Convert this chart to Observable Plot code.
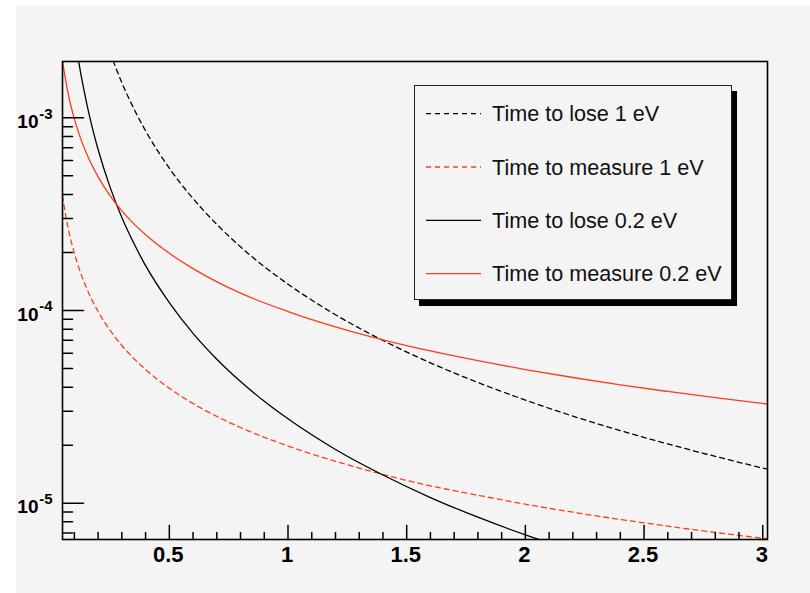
<!DOCTYPE html>
<html><head><meta charset="utf-8">
<script src="https://cdn.jsdelivr.net/npm/d3@7"></script>
<script src="https://cdn.jsdelivr.net/npm/@observablehq/plot@0.6"></script>
<style>
html,body{margin:0;padding:0;background:#fff;width:810px;height:593px;overflow:hidden;}
#wrap{position:absolute;left:16px;top:5px;width:794px;height:588px;background:#f4f4f4;overflow:hidden;}
#legend{position:absolute;left:398px;top:80px;width:316px;height:213px;border:1.5px solid #222;background:#f4f4f4;box-shadow:5px 6px 0 #000;}
#legend svg{display:block;}
</style></head><body><div id="wrap"><div id="plot"></div><div id="legend"></div></div>
<script>
// ---- data ----
const xLose1 = [0.25,0.3,0.35,0.4,0.5,0.6,0.7,0.8,0.9,1.0,1.2,1.4,1.6,1.8,2.0,2.2,2.4,2.6,2.8,3.02];
const tLose1 = [2.19e-3,1.52e-3,1.12e-3,8.56e-4,5.48e-4,3.81e-4,2.80e-4,2.14e-4,1.69e-4,1.37e-4,9.51e-5,6.99e-5,5.35e-5,4.23e-5,3.43e-5,2.83e-5,2.38e-5,2.03e-5,1.75e-5,1.50e-5];

const xLose02 = [0.11,0.12,0.14,0.16,0.18,0.2,0.25,0.3,0.35,0.4,0.5,0.6,0.7,0.8,0.9,1.0,1.2,1.4,1.6,1.8,2.0,2.1];
const tLose02 = [2.26e-3,1.90e-3,1.40e-3,1.07e-3,8.46e-4,6.85e-4,4.38e-4,3.04e-4,2.24e-4,1.71e-4,1.10e-4,7.61e-5,5.59e-5,4.28e-5,3.38e-5,2.74e-5,1.90e-5,1.40e-5,1.07e-5,8.46e-6,6.85e-6,6.21e-6];

const xMeas = [0.05,0.06,0.08,0.1,0.12,0.15,0.2,0.25,0.3,0.4,0.5,0.6,0.8,1.0,1.2,1.4,1.6,1.8,2.0,2.2,2.4,2.6,2.8,3.02];
const tMeas1 = [3.95e-4,3.29e-4,2.47e-4,1.98e-4,1.65e-4,1.32e-4,9.88e-5,7.90e-5,6.58e-5,4.94e-5,3.95e-5,3.29e-5,2.47e-5,1.98e-5,1.65e-5,1.41e-5,1.23e-5,1.10e-5,9.88e-6,8.98e-6,8.23e-6,7.60e-6,7.05e-6,6.54e-6];
const tMeas02 = [1.98e-3,1.65e-3,1.23e-3,9.88e-4,8.23e-4,6.58e-4,4.94e-4,3.95e-4,3.29e-4,2.47e-4,1.98e-4,1.65e-4,1.23e-4,9.88e-5,8.23e-5,7.05e-5,6.17e-5,5.49e-5,4.94e-5,4.49e-5,4.11e-5,3.80e-5,3.53e-5,3.27e-5];

const seriesNames = ["Time to lose 1 eV","Time to measure 1 eV","Time to lose 0.2 eV","Time to measure 0.2 eV"];

// tick labels
const xMajor = [0.5,1,1.5,2,2.5,3];
const xMajorLabels = ["0.5","1","1.5","2","2.5","3"];
const yMajor = [1e-5,1e-4,1e-3];
const yMajorExp = ["-5","-4","-3"];

// ---- build ----
const RED = "#ff3b1f";
const styles = [
  {color:"#000", dash:"5,4"},
  {color:RED, dash:"5,4"},
  {color:"#000", dash:null},
  {color:RED, dash:null}
];
const xs = [xLose1, xMeas, xLose02, xMeas];
const ts = [tLose1, tMeas1, tLose02, tMeas02];
const rows = seriesNames.map((name, k) => xs[k].map((x, i) => ({name, x, t: ts[k][i]})));

const yDomain = [6.48e-6, 1.96e-3];
const xDomain = [0.05, 3.02];
const xMinor = d3.range(1, 31).map(i => +(i / 10).toFixed(1)).filter(v => !xMajor.includes(v));
const yMinor = [-6,-5,-4,-3].flatMap(e => [2,3,4,5,6,7,8,9].map(m => +(m * Math.pow(10, e)).toPrecision(3)))
  .filter(v => v >= yDomain[0] && v <= yDomain[1]);

const tickShape = {draw(ctx, l) { ctx.moveTo(0, 0); ctx.lineTo(0, -l); }};
const FONT = "'Liberation Sans', Helvetica, Arial, sans-serif";

const chart = Plot.plot({
  width: 794, height: 588,
  marginLeft: 46, marginRight: 43, marginTop: 56, marginBottom: 54,
  x: {domain: xDomain, axis: null},
  y: {type: "log", domain: yDomain, axis: null},
  style: {background: "transparent", fontFamily: FONT, color: "#000"},
  marks: [
    ...rows.map((r, k) => Plot.line(r, {
      x: "x", y: "t", stroke: styles[k].color, strokeWidth: 1.3,
      strokeDasharray: styles[k].dash, curve: "monotone-x", clip: true
    })),
    Plot.frame({stroke: "#000", strokeWidth: 1.6}),
    Plot.vector(xMajor, {x: d => d, frameAnchor: "bottom", length: 14, rotate: 0, anchor: "start", shape: tickShape, stroke: "#000", strokeWidth: 1.5}),
    Plot.vector(xMinor, {x: d => d, frameAnchor: "bottom", length: 7, rotate: 0, anchor: "start", shape: tickShape, stroke: "#000", strokeWidth: 1.5}),
    Plot.vector(yMajor, {y: d => d, frameAnchor: "left", length: 21, rotate: 90, anchor: "start", shape: tickShape, stroke: "#000", strokeWidth: 1.5}),
    Plot.vector(yMinor, {y: d => d, frameAnchor: "left", length: 10, rotate: 90, anchor: "start", shape: tickShape, stroke: "#000", strokeWidth: 1.5}),
    Plot.text(xMajor, {x: d => d, frameAnchor: "bottom", text: (d, i) => xMajorLabels[i], dy: 7, dx: -1, lineAnchor: "top", fontSize: 22, fontWeight: "bold", fill: "#000"}),
    Plot.text(yMajor, {y: d => d, frameAnchor: "left", text: () => "10", dx: -24, dy: 4, textAnchor: "end", lineAnchor: "middle", fontSize: 19, fontWeight: "bold", fill: "#000"}),
    Plot.text(yMajor, {y: d => d, frameAnchor: "left", text: (d, i) => yMajorExp[i], dx: -10, dy: -4, textAnchor: "end", lineAnchor: "middle", fontSize: 15, fontWeight: "bold", fill: "#000"})
  ]
});
document.getElementById("plot").appendChild(chart);

// ---- legend ----
const leg = d3.select("#legend").append("svg").attr("width", 316).attr("height", 213);
const rowY = [27.7, 81, 134.3, 187.6];
seriesNames.forEach((name, k) => {
  leg.append("line").attr("x1", 11).attr("x2", 66).attr("y1", rowY[k]).attr("y2", rowY[k])
    .attr("stroke", styles[k].color).attr("stroke-width", 1.3)
    .attr("stroke-dasharray", styles[k].dash);
  leg.append("text").attr("x", 77).attr("y", rowY[k] + 7.6).text(name)
    .attr("font-family", FONT).attr("font-size", 21.6).attr("fill", "#111");
});
</script>
</body></html>
